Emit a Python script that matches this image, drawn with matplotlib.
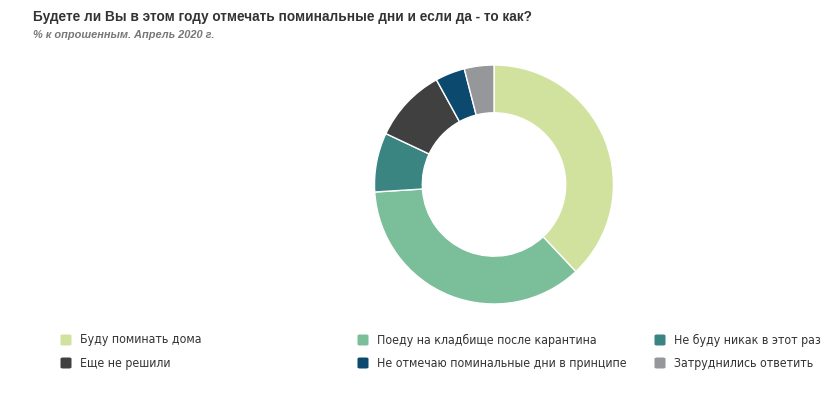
import matplotlib.pyplot as plt
from matplotlib.patches import FancyBboxPatch
from matplotlib import font_manager

labels = ["Буду поминать дома", "Поеду на кладбище после карантина", "Не буду никак в этот раз",
          "Еще не решили", "Не отмечаю поминальные дни в принципе", "Затруднились ответить"]
values = [38, 36, 8, 10, 4, 4]
colors = ["#d1e29f", "#7bbf9a", "#3a8482", "#404040", "#0b4a6e", "#96979b"]

W, H = 831, 394
fig = plt.figure(figsize=(W / 100, H / 100), dpi=100)

# look for a narrow font for the legend, like in the original
narrow = None
for f in font_manager.fontManager.ttflist:
    fn = f.fname.lower()
    if ("narrow" in fn or "condensed" in fn) and "bold" not in fn and "oblique" not in fn and "italic" not in fn:
        narrow = f.fname
        break
if narrow:
    leg_font = font_manager.FontProperties(fname=narrow, size=8.85)
else:
    leg_font = font_manager.FontProperties(family="Liberation Sans", size=7.3)

fig.text(33 / W, 1 - 17 / H, "Будете ли Вы в этом году отмечать поминальные дни и если да - то как?",
         fontsize=9.8, fontweight="bold", color="#333333", family="Liberation Sans", va="center")
fig.text(33 / W, 1 - 35 / H, "% к опрошенным. Апрель 2020 г.",
         fontsize=7.95, fontweight="bold", fontstyle="italic", color="#777777",
         family="Liberation Sans", va="center")

cx, cy, r = 494, 184.5, 119.5
ax = fig.add_axes([(cx - r) / W, 1 - (cy + r) / H, 2 * r / W, 2 * r / H])
ax.pie(values, colors=colors, startangle=90, counterclock=False, radius=1,
       wedgeprops=dict(width=0.4, edgecolor="white", linewidth=1))
ax.set_xlim(-1, 1)
ax.set_ylim(-1, 1)
ax.set_aspect("equal")
ax.axis("off")

# legend, 3 columns x 2 rows
col_x = [66, 363, 660]
row_y = [340, 363]
for k, (lab, col) in enumerate(zip(labels, colors)):
    x = col_x[k % 3]
    y = row_y[k // 3]
    box = FancyBboxPatch(((x - 5.5) / W, 1 - (y + 5.5) / H), 11 / W, 11 / H,
                         boxstyle="round,pad=0,rounding_size=0.003",
                         transform=fig.transFigure, facecolor=col, edgecolor="none")
    fig.patches.append(box)
    fig.text((x + 14) / W, 1 - y / H, lab, fontproperties=leg_font, color="#333333", va="center")

fig.savefig("out.png", dpi=100)
